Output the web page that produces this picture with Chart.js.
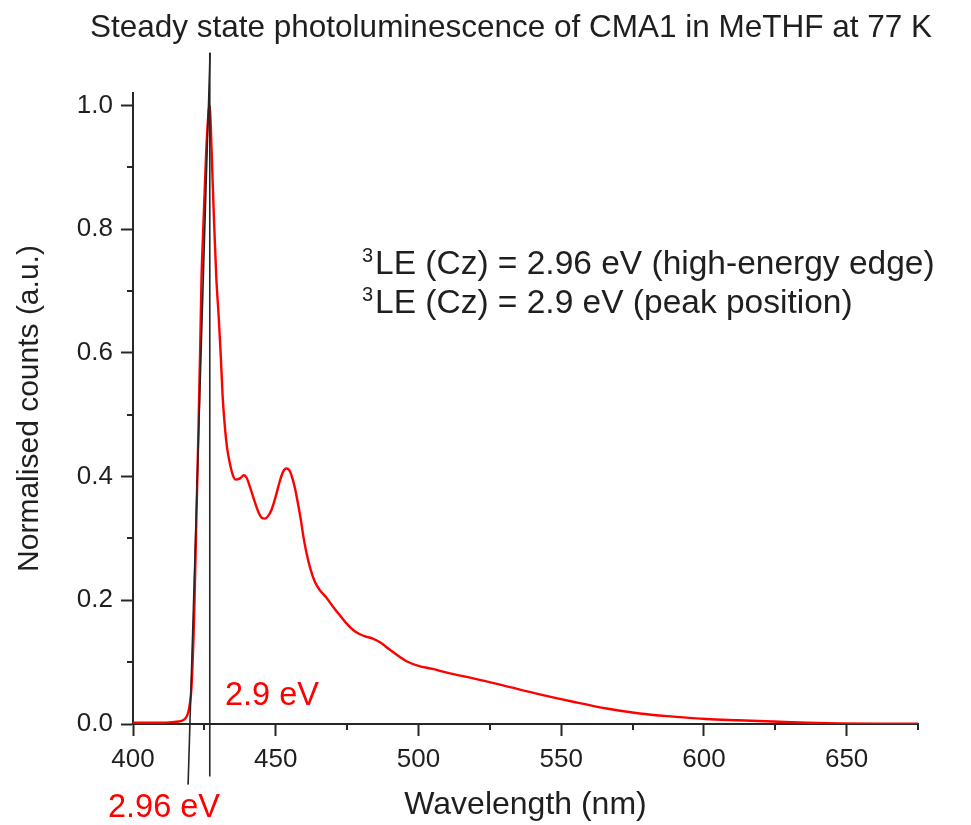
<!DOCTYPE html>
<html>
<head>
<meta charset="utf-8">
<script src="https://cdn.jsdelivr.net/npm/chart.js@4.4.0/dist/chart.umd.min.js"></script>
<style>
  html, body { margin: 0; padding: 0; background: #fff; }
  #wrap { width: 971px; height: 825px; position: relative; }
</style>
</head>
<body>
<div id="wrap"><canvas id="pl-chart"></canvas></div>
<script>
// spectrum (nm, normalised counts)
const wavelengths = [400, 405, 410, 414, 416, 417.5, 418.5, 419.3, 419.9, 420.5, 421.4, 422.2, 422.9, 423.5, 424.0,
  424.6, 425.1, 425.6, 426.1, 426.8, 427.3, 427.8, 428.5, 429.2, 430.0, 430.7, 431.4, 432.2, 433.0, 434.0, 435.0,
  436.0, 437.5, 438.8, 439.8, 441.2, 442.6, 444.0, 445.2, 446.2, 447.3, 448.5, 450.0, 451.4, 452.6, 453.7, 454.8,
  455.8, 456.8, 457.8, 458.8, 459.8, 460.8, 462.2, 463.7, 465.5, 467.8, 470.0, 472.4, 474.7, 477.1, 479.5, 481.8,
  484.0, 486.5, 490.0, 493.0, 496.0, 500.0, 505.0, 510.0, 520.0, 530.0, 542.5, 554.2, 565.9, 577.5, 589.2, 600.9,
  612.0, 624.2, 636.0, 647.6, 660.0, 675.0];
const counts = [0.002, 0.002, 0.002, 0.003, 0.004, 0.006, 0.010, 0.018, 0.032, 0.060, 0.170, 0.330, 0.470, 0.600, 0.720,
  0.800, 0.860, 0.920, 0.965, 1.000, 0.960, 0.890, 0.800, 0.720, 0.660, 0.600, 0.530, 0.480, 0.445, 0.420, 0.402,
  0.395, 0.397, 0.402, 0.398, 0.380, 0.360, 0.342, 0.333, 0.332, 0.336, 0.346, 0.368, 0.392, 0.408, 0.413, 0.410,
  0.398, 0.380, 0.356, 0.330, 0.300, 0.276, 0.250, 0.230, 0.216, 0.204, 0.190, 0.176, 0.163, 0.152, 0.145, 0.141,
  0.138, 0.132, 0.120, 0.110, 0.101, 0.094, 0.089, 0.083, 0.073, 0.062, 0.048, 0.036, 0.025, 0.017, 0.012, 0.008,
  0.006, 0.004, 0.002, 0.001, 0.0005, 0.0005];

// tangent on the high-energy edge and the peak marker
const edgeLineX = [419.3, 427.0];
const edgeLineY = [-0.098, 1.085];
const peakLineX = [426.9, 426.9];
const peakLineY = [-0.085, 1.085];

const xTicks = [400, 450, 500, 550, 600, 650];
const xMinorTicks = [425, 475, 525, 575, 625, 675];
const yTicks = [0, 0.2, 0.4, 0.6, 0.8, 1.0];
const yMinorTicks = [0.1, 0.3, 0.5, 0.7, 0.9];

const titleText = 'Steady state photoluminescence of CMA1 in MeTHF at 77 K';
const noteLines = ['LE (Cz) = 2.96 eV (high-energy edge)', 'LE (Cz) = 2.9 eV (peak position)'];
const peakLabel = '2.9 eV';
const edgeLabel = '2.96 eV';

const FONT = '"Liberation Sans", Arial, Helvetica, sans-serif';
const AXIS_COLOR = '#262626';
const TEXT_COLOR = '#1f1f1f';
const RED = '#ff0000';

function toPoints(xs, ys) {
  return xs.map((x, i) => ({ x, y: ys[i] }));
}

// minor ticks + free text
const extrasPlugin = {
  id: 'extras',
  afterDraw(chart) {
    const ctx = chart.ctx;
    const xs = chart.scales.x, ys = chart.scales.y;
    ctx.save();
    ctx.strokeStyle = AXIS_COLOR;
    ctx.lineWidth = 2;
    ctx.beginPath();
    xMinorTicks.forEach(v => {
      const px = Math.round(xs.getPixelForValue(v));
      ctx.moveTo(px, ys.bottom);
      ctx.lineTo(px, ys.bottom + 6);
    });
    yMinorTicks.forEach(v => {
      const py = Math.round(ys.getPixelForValue(v));
      ctx.moveTo(xs.left, py);
      ctx.lineTo(xs.left - 6, py);
    });
    ctx.stroke();

    ctx.textBaseline = 'alphabetic';
    ctx.fillStyle = TEXT_COLOR;
    ctx.textAlign = 'center';
    ctx.font = `31.5px ${FONT}`;
    ctx.fillText(titleText, 511, 37);

    ctx.textAlign = 'left';
    const baselines = [274, 313];
    noteLines.forEach((t, i) => {
      ctx.font = `20px ${FONT}`;
      ctx.fillText('3', 362, baselines[i] - 12);
      ctx.font = `33.5px ${FONT}`;
      ctx.fillText(t, 375, baselines[i]);
    });

    ctx.fillStyle = RED;
    ctx.font = `32.5px ${FONT}`;
    ctx.fillText(peakLabel, 225, 705);
    ctx.fillText(edgeLabel, 108, 817);
    ctx.restore();
  }
};

new Chart(document.getElementById('pl-chart'), {
  type: 'line',
  data: {
    datasets: [
      { label: 'edge', data: toPoints(edgeLineX, edgeLineY), borderColor: AXIS_COLOR, borderWidth: 1.6,
        pointRadius: 0, tension: 0, clip: false },
      { label: 'peak', data: toPoints(peakLineX, peakLineY), borderColor: AXIS_COLOR, borderWidth: 1.6,
        pointRadius: 0, tension: 0, clip: false },
      { label: 'PL', data: toPoints(wavelengths, counts), borderColor: RED, borderWidth: 2.4,
        pointRadius: 0, cubicInterpolationMode: 'monotone' }
    ]
  },
  options: {
    responsive: true,
    maintainAspectRatio: false,
    animation: false,
    layout: { padding: { top: 93, right: 53, left: 0, bottom: 0 } },
    plugins: { legend: { display: false }, tooltip: { enabled: false }, title: { display: false } },
    scales: {
      x: {
        type: 'linear', min: 400, max: 675,
        afterBuildTicks: s => { s.ticks = xTicks.map(v => ({ value: v })); },
        afterFit: s => { s.height = 101; },
        border: { display: true, color: AXIS_COLOR, width: 2 },
        grid: { display: true, drawOnChartArea: false, drawTicks: true, tickLength: 12, tickColor: AXIS_COLOR, tickWidth: 2 },
        ticks: { color: TEXT_COLOR, font: { family: FONT, size: 26 }, padding: 8, maxRotation: 0, callback: v => String(v) },
        title: { display: true, text: 'Wavelength (nm)', color: TEXT_COLOR, font: { family: FONT, size: 32 }, padding: { top: 0, bottom: 1 } }
      },
      y: {
        type: 'linear', min: 0, max: 1.02,
        afterBuildTicks: s => { s.ticks = yTicks.map(v => ({ value: v })); },
        afterFit: s => { s.width = 133; },
        border: { display: true, color: AXIS_COLOR, width: 2 },
        grid: { display: true, drawOnChartArea: false, drawTicks: true, tickLength: 12, tickColor: AXIS_COLOR, tickWidth: 2 },
        ticks: { color: TEXT_COLOR, font: { family: FONT, size: 26 }, padding: 8, callback: v => v.toFixed(1) },
        title: { display: true, text: 'Normalised counts (a.u.)', color: TEXT_COLOR, font: { family: FONT, size: 30 }, padding: { top: 12, bottom: 0 } }
      }
    }
  },
  plugins: [extrasPlugin]
});
</script>
</body>
</html>
